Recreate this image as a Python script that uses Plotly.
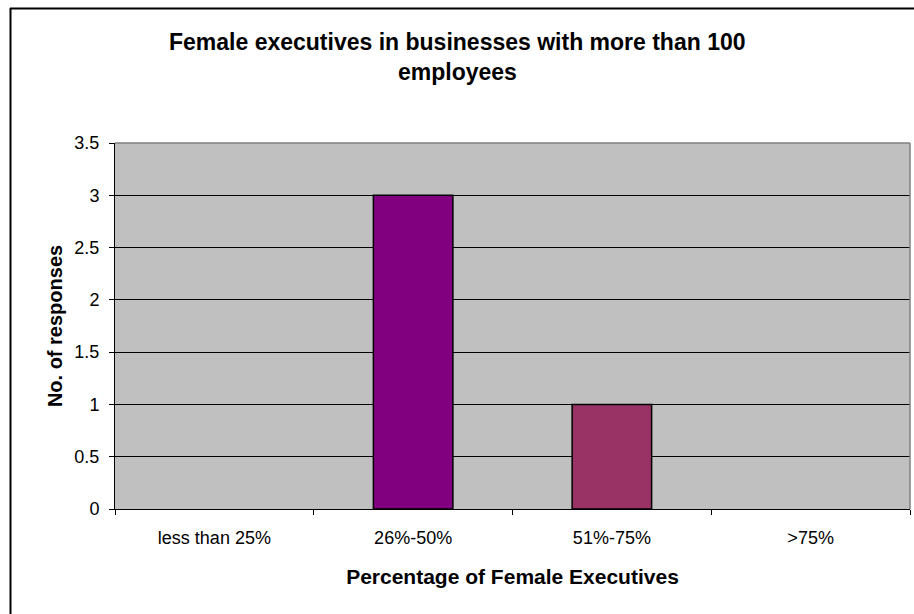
import plotly.graph_objects as go

# Survey results: number of responses per share-of-female-executives band
categories = ["less than 25%", "26%-50%", "51%-75%", ">75%"]
responses = [0, 3, 1, 0]
bar_colors = ["#800080", "#800080", "#993366", "#800080"]

title_lines = ["Female executives in businesses with more than 100", "employees"]
x_title = "Percentage of Female Executives"
y_title = "No. of responses"
y_ticks = [0, 0.5, 1, 1.5, 2, 2.5, 3, 3.5]

FONT = "Arial, 'Liberation Sans', sans-serif"
W, H = 914, 614
L, R, T, B = 115, 4, 143, 105
pw, ph = W - L - R, H - T - B


def px_x(px):
    return (px - L) / pw


def px_y(py):
    return (H - B - py) / ph


fig = go.Figure(
    go.Bar(
        x=categories,
        y=responses,
        marker=dict(
            color=bar_colors,
            line=dict(color="#000000", width=[1.5 if v else 0 for v in responses]),
        ),
        width=0.4,
        hoverinfo="x+y",
    )
)

fig.update_layout(
    width=W,
    height=H,
    margin=dict(l=L, r=R, t=T, b=B),
    paper_bgcolor="#ffffff",
    plot_bgcolor="#c0c0c0",
    font=dict(family=FONT, size=18, color="#000000"),
    showlegend=False,
)

fig.update_xaxes(
    type="category",
    tickson="boundaries",
    ticks="outside",
    ticklen=5,
    tickcolor="#000000",
    showline=True,
    linecolor="#000000",
    linewidth=1,
    showgrid=False,
    tickfont=dict(size=18),
    ticklabelstandoff=12,
    title=dict(text=f"<b>{x_title}</b>", font=dict(size=21), standoff=22),
)

fig.update_yaxes(
    range=[0, 3.5],
    tickvals=y_ticks,
    ticktext=[f"{v:g}" for v in y_ticks],
    ticks="outside",
    ticklen=5,
    tickcolor="#000000",
    showline=True,
    linecolor="#000000",
    linewidth=1,
    showgrid=True,
    gridcolor="#000000",
    gridwidth=1,
    zeroline=False,
    tickfont=dict(size=18),
    ticklabelstandoff=6,
    title=dict(text=f"<b>{y_title}</b>", font=dict(size=20), standoff=6),
)

shapes = [
    # gray frame on the top and right of the plot area
    dict(type="line", xref="paper", yref="paper", x0=0, x1=1, y0=1, y1=1,
         line=dict(color="#808080", width=1.5)),
    dict(type="line", xref="paper", yref="paper", x0=1, x1=1, y0=0, y1=1,
         line=dict(color="#808080", width=1.5)),
    # chart-area border
    dict(type="line", xref="paper", yref="paper", x0=px_x(10), x1=px_x(W + 20),
         y0=px_y(8.5), y1=px_y(8.5), line=dict(color="#000000", width=2)),
    dict(type="line", xref="paper", yref="paper", x0=px_x(10.5), x1=px_x(10.5),
         y0=px_y(8), y1=px_y(H + 20), line=dict(color="#000000", width=2)),
]

annotations = [
    dict(text=f"<b>{title_lines[0]}</b>", xref="paper", yref="paper",
         x=px_x(W / 2), y=px_y(42), showarrow=False, xanchor="center", yanchor="middle",
         font=dict(size=23)),
    dict(text=f"<b>{title_lines[1]}</b>", xref="paper", yref="paper",
         x=px_x(W / 2), y=px_y(72), showarrow=False, xanchor="center", yanchor="middle",
         font=dict(size=23)),
]

fig.update_layout(shapes=shapes, annotations=annotations)

fig.write_html("out.html")
